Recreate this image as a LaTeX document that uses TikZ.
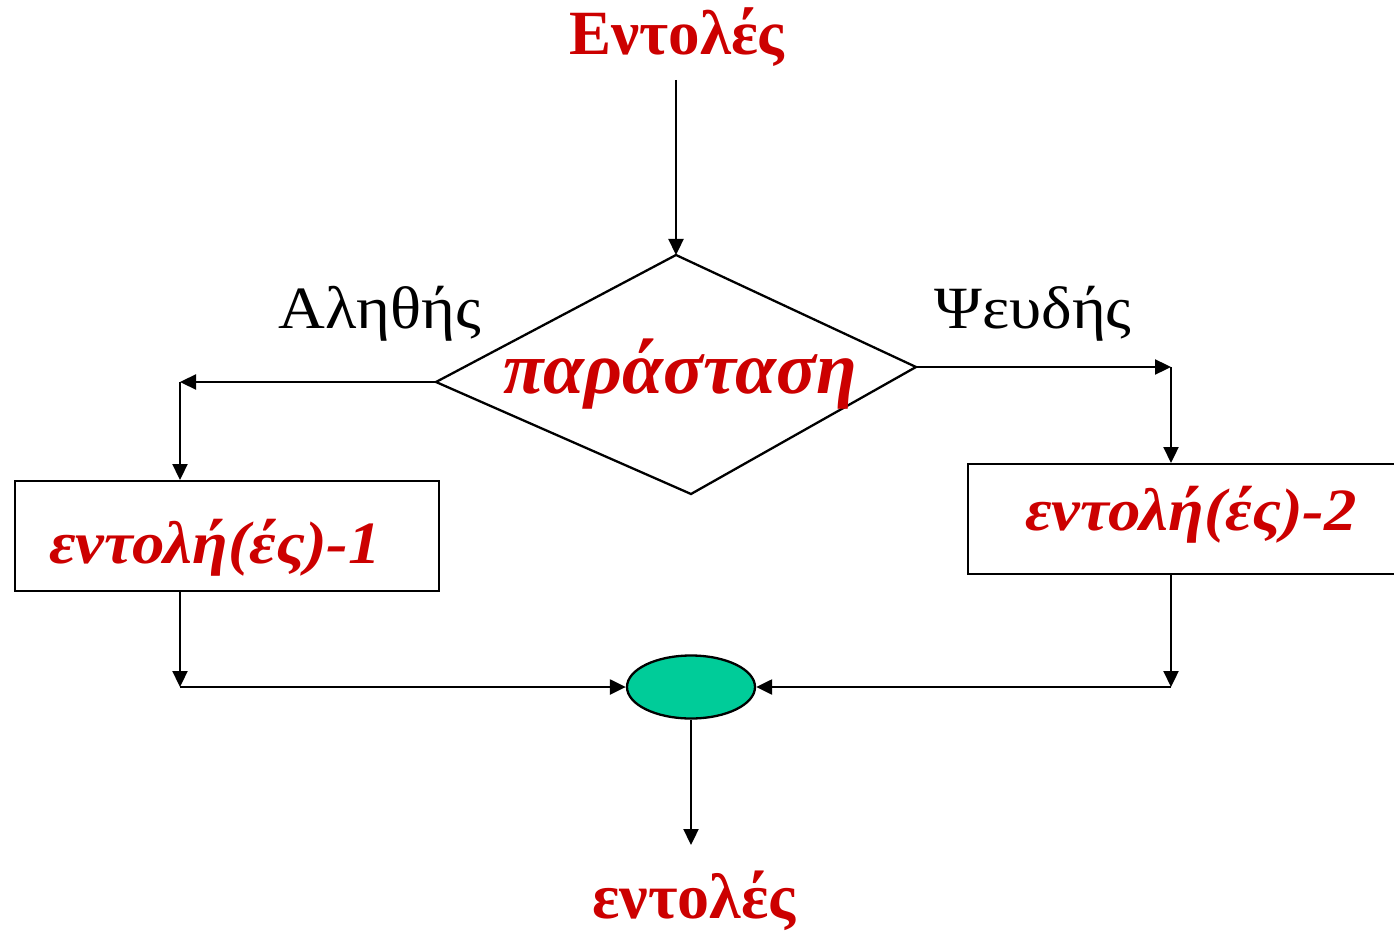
\documentclass[tikz,border=0pt]{standalone}
\usepackage{fontspec}
\setmainfont{Liberation Serif}
\newfontfamily\wideserif[FakeStretch=1.08]{Liberation Serif}
\usetikzlibrary{arrows.meta,shapes.geometric}
\definecolor{tred}{HTML}{CC0000}
\definecolor{tgreen}{HTML}{00CC99}
\tikzset{
  conn/.style={line width=2.3pt,-{Triangle[length=16pt,width=15pt]}},
  plain/.style={line width=2.3pt},
  boxst/.style={draw,line width=2.3pt,minimum width=424pt,minimum height=110pt,inner sep=0pt},
  redtxt/.style={text=tred,font=\wideserif\bfseries\itshape\fontsize{60}{66}\selectfont,inner sep=0pt},
  lbl/.style={font=\wideserif\fontsize{60}{66}\selectfont,inner sep=0pt},
  title/.style={text=tred,font=\bfseries\fontsize{63}{70}\selectfont,inner sep=0pt},
}
\begin{document}
\begin{tikzpicture}[x=1pt,y=-1pt]
\useasboundingbox (0,0) rectangle (1394,933);
% diamond
\coordinate (dt) at (676,255);
\coordinate (dr) at (916,367);
\coordinate (db) at (691,494);
\coordinate (dl) at (436,382);
\draw[plain,line join=miter] (dt) -- (dr) -- (db) -- (dl) -- cycle;
\node[redtxt,font=\bfseries\itshape\fontsize{74}{80}\selectfont,anchor=base] (expr) at (680,393) {παράσταση};
% boxes
\node[boxst,anchor=north west] (b1) at (14,480) {};
\node[boxst,anchor=north west,minimum width=428pt] (b2) at (967,463) {};
\node[redtxt,anchor=base] (t1) at (215,563) {εντολή(ές)-1};
\node[redtxt,anchor=base] (t2) at (1191,530) {εντολή(ές)-2};
% ellipse
\node[ellipse,draw,fill=tgreen,line width=2.3pt,minimum width=128pt,minimum height=63pt,inner sep=0pt] (j) at (691,687) {};
% titles
\node[title,anchor=base] (top) at (677,55) {Εντολές};
\node[title,font=\bfseries\fontsize{64}{70}\selectfont,anchor=base] (bot) at (694,918) {εντολές};
\node[lbl,anchor=base] (yes) at (380,328) {Αληθής};
\node[lbl,anchor=base] (no) at (1033,328) {Ψευδής};
% connector points
\coordinate (ts) at (676,80);
\coordinate (lc) at (180,382);
\coordinate (rc) at (1171,367);
\coordinate (lb) at (180,687);
\coordinate (rb) at (1171,687);
\coordinate (be) at (691,845);
% connectors
\draw[conn] (ts) -- (dt);
\draw[conn] (dl) -- (lc);
\draw[conn] (lc) -- (b1.north -| lc);
\draw[conn] (dr) -- (rc);
\draw[conn] (rc) -- (b2.north -| rc);
\draw[conn] (b1.south -| lb) -- (lb);
\draw[conn] (lb) -- (j.west);
\draw[conn] (b2.south -| rb) -- (rb);
\draw[conn] (rb) -- (j.east);
\draw[conn] (j.south) -- (be);
\end{tikzpicture}
\end{document}
